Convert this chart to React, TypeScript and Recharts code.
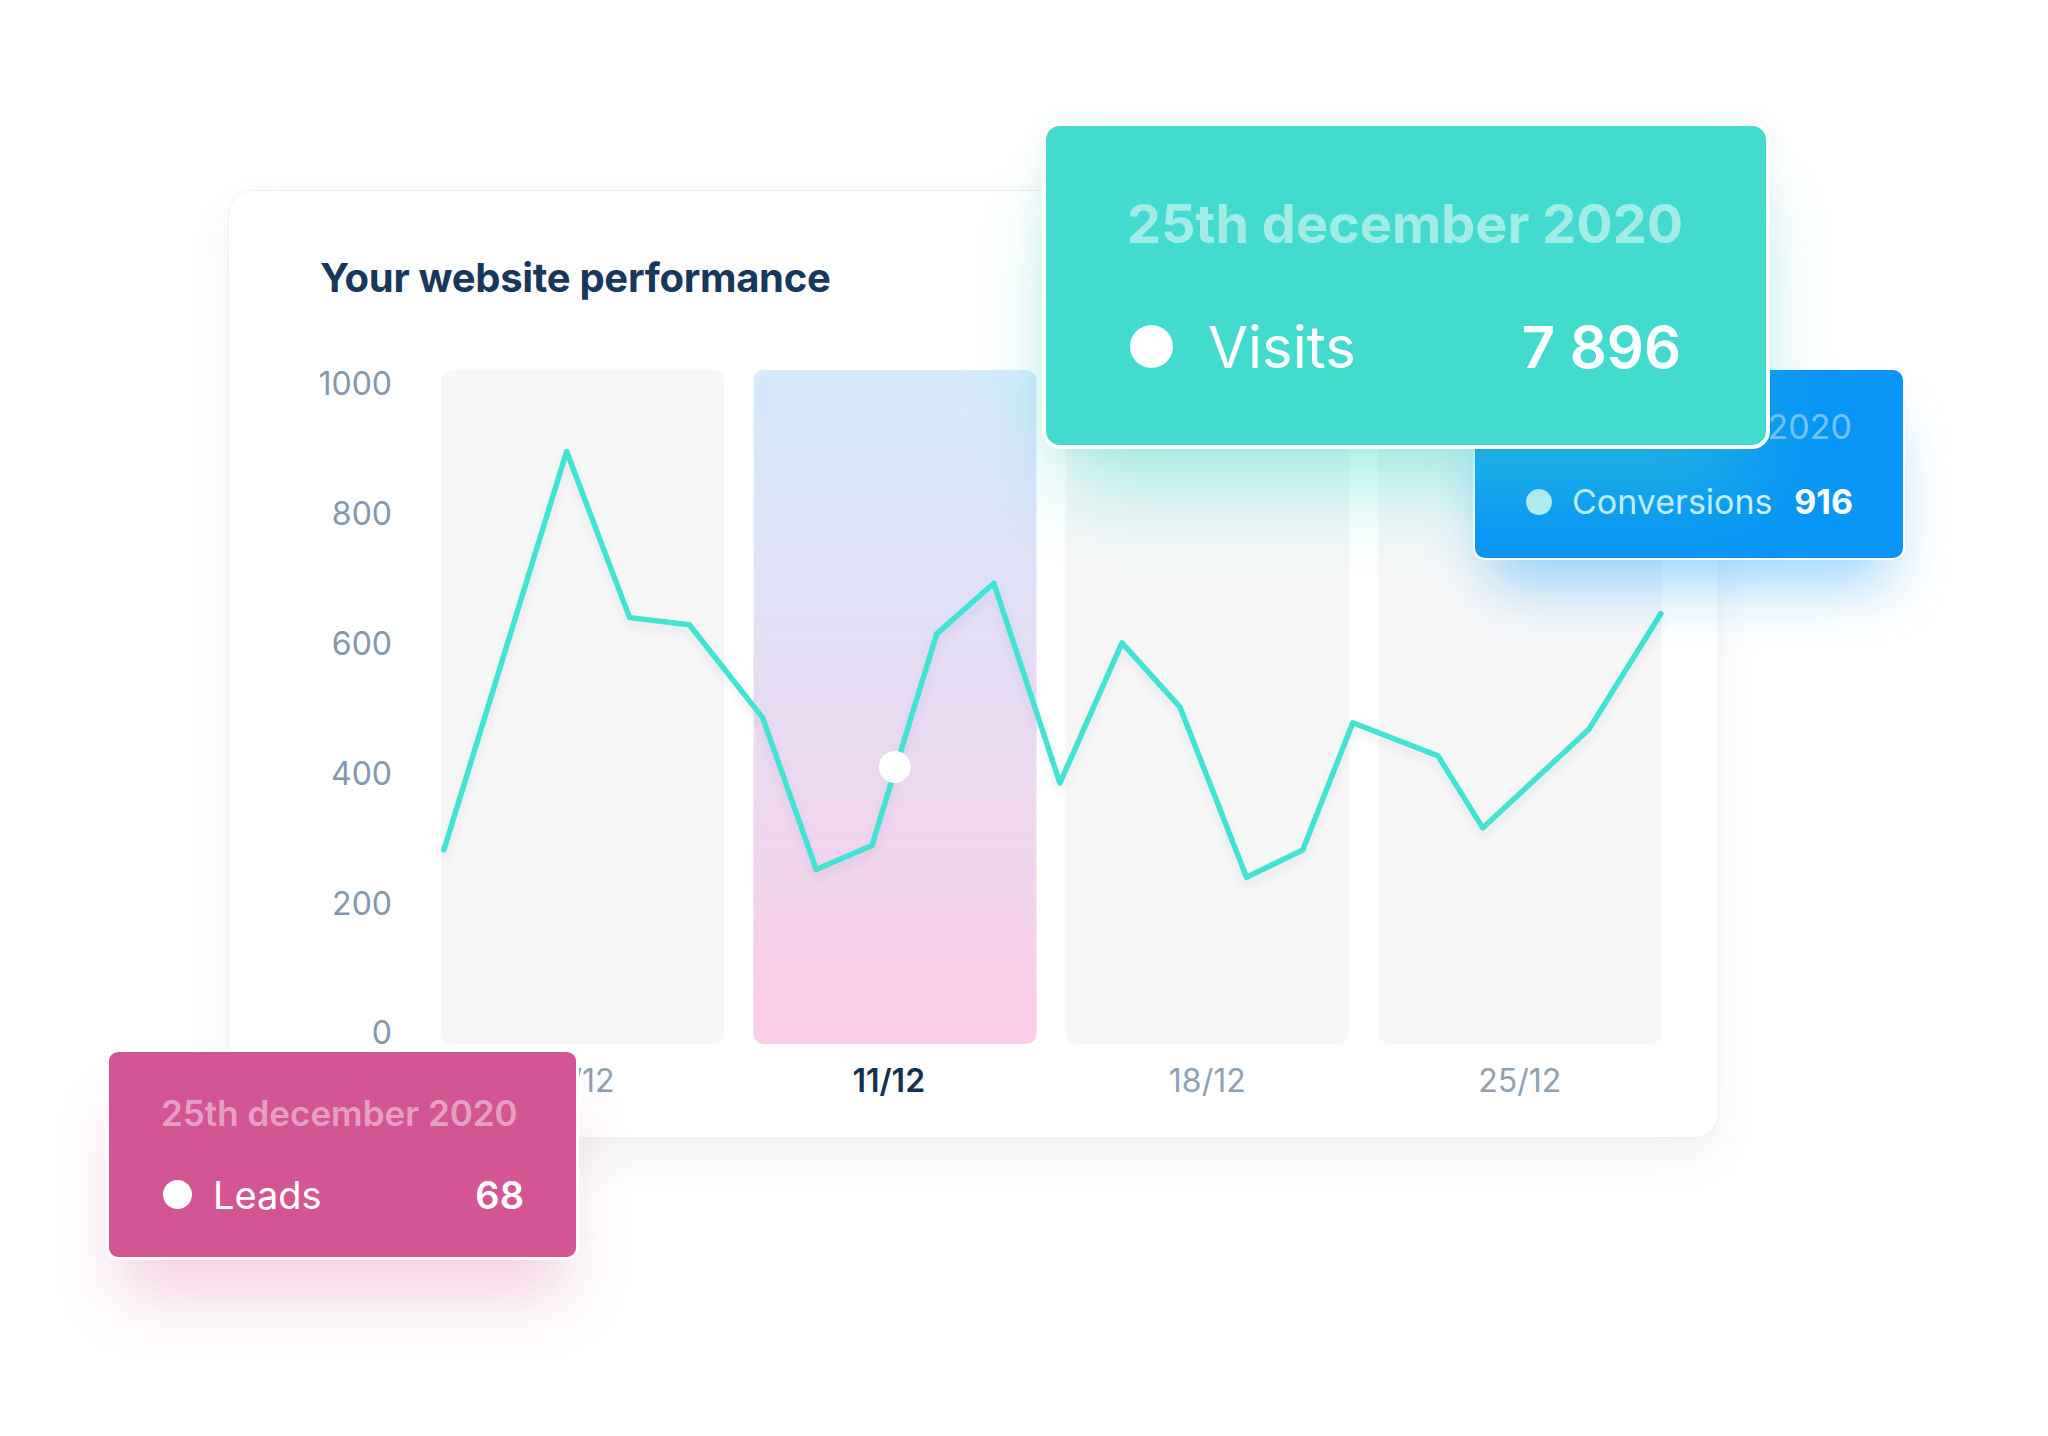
import React from "react"
import { ComposedChart, Bar, Line, XAxis, YAxis, Cell, ReferenceDot } from "recharts"

const weeks = ["4/12", "11/12", "18/12", "25/12"]
const activeWeek = "11/12"
const visitDays = [0.9, 3.65, 5.06, 6.4, 8.04, 9.24, 10.49, 11.94, 13.22, 14.7, 16.09, 17.39, 18.88, 20.14, 21.26, 23.17, 24.17, 26.55, 28.16]
const visitValues = [282, 896, 640, 629, 486, 252, 289, 615, 693, 385, 601, 502, 240, 282, 478, 427, 316, 468, 646]
const yTicks = [0, 200, 400, 600, 800, 1000]
const activeDay = 11
const activeValue = 410

const weekData = weeks.map(week => ({ week, band: 1 }))
const visitData = visitDays.map((day, i) => ({ day, visits: visitValues[i] }))

const font = "Inter, 'Noto Sans', sans-serif"

function WeekTick({ x, y, payload }: any) {
  const active = payload.value === activeWeek
  return (
    <text
      x={x}
      y={y}
      dx={active ? -6 : 0}
      textAnchor="middle"
      dominantBaseline="central"
      fontSize={32}
      fontFamily={font}
      fontWeight={active ? 600 : 400}
      fill={active ? "#12304f" : "#8ea0b3"}
    >
      {payload.value}
    </text>
  )
}

const abs = (s: React.CSSProperties): React.CSSProperties => ({ position: "absolute", lineHeight: 1, whiteSpace: "nowrap", ...s })

export default function App() {
  return (
    <div style={{ position: "absolute", left: 0, top: 0, width: 2048, height: 1436, background: "#fff", overflow: "hidden", fontFamily: font }}>
      {/* main card */}
      <div style={abs({
        left: 229, top: 191, width: 1489, height: 946, background: "#fff", borderRadius: 24,
        boxShadow: "0 0 0 1px #eef1f4, 0 20px 50px rgba(30,55,90,0.07)",
      })} />
      <div style={abs({ left: 320, top: 258, fontSize: 40, fontWeight: 700, color: "#17385c", letterSpacing: -0.3 })}>
        Your website performance
      </div>

      <div style={{ position: "absolute", left: 300, top: 340 }}>
        <ComposedChart width={1376} height={764} data={weekData} margin={{ top: 30, right: 0, bottom: 0, left: 0 }} barCategoryGap={15}>
          <defs>
            <linearGradient id="activeWeekFill" x1="0" y1="0" x2="0" y2="1">
              <stop offset="0%" stopColor="#d4eafd" />
              <stop offset="45%" stopColor="#e5ddf3" />
              <stop offset="100%" stopColor="#fccde8" />
            </linearGradient>
            <filter id="lineShadow" x="-10%" y="-10%" width="120%" height="130%">
              <feDropShadow dx="0" dy="6" stdDeviation="4" floodColor="#1c3550" floodOpacity="0.08" />
            </filter>
          </defs>
          <XAxis
            xAxisId="week"
            dataKey="week"
            axisLine={false}
            tickLine={false}
            tickSize={0}
            tickMargin={36}
            height={60}
            interval={0}
            tick={<WeekTick />}
          />
          <XAxis xAxisId="day" type="number" dataKey="day" domain={[0.5, 28.5]} hide height={0} allowDataOverflow />
          <YAxis
            yAxisId="value"
            width={126}
            domain={[0, 1000]}
            ticks={yTicks}
            axisLine={false}
            tickLine={false}
            tickSize={0}
            tickMargin={34}
            padding={{ top: 14, bottom: 11 }}
            tick={{ fontSize: 32, fill: "#8397ad", fontFamily: font }}
          />
          <YAxis yAxisId="band" hide width={0} domain={[0, 1]} />
          <Bar xAxisId="week" yAxisId="band" dataKey="band" radius={10} isAnimationActive={false}>
            {weekData.map(d => (
              <Cell key={d.week} fill={d.week === activeWeek ? "url(#activeWeekFill)" : "#f7f7f8"} />
            ))}
          </Bar>
          <Line
            xAxisId="day"
            yAxisId="value"
            data={visitData}
            dataKey="visits"
            type="linear"
            stroke="#42e3d3"
            strokeWidth={5.5}
            strokeLinejoin="round"
            strokeLinecap="round"
            filter="url(#lineShadow)"
            dot={false}
            activeDot={false}
            isAnimationActive={false}
          />
          <ReferenceDot xAxisId="day" yAxisId="value" x={activeDay} y={activeValue} r={16} fill="#fff" stroke="none" />
        </ComposedChart>
      </div>

      {/* conversions card */}
      <div style={abs({
        left: 1473, top: 368, width: 432, height: 192, boxSizing: "border-box", background: "#0895f6",
        border: "2px solid #fff", borderRadius: 12,
        boxShadow: "0 40px 60px -16px rgba(8,149,246,0.4)",
      })}>
        <div style={abs({ right: 51, top: 40, fontSize: 34, color: "rgba(255,255,255,0.45)" })}>25th december 2020</div>
        <div style={abs({ left: 51, top: 119, width: 26, height: 26, borderRadius: "50%", background: "#c6eef5" })} />
        <div style={abs({ left: 97, top: 115, fontSize: 34, color: "#d4f0fb" })}>Conversions</div>
        <div style={abs({ right: 50, top: 115, fontSize: 34, fontWeight: 700, color: "#fff" })}>916</div>
      </div>

      {/* visits card */}
      <div style={abs({
        left: 1042, top: 122, width: 728, height: 327, boxSizing: "border-box", background: "#42dbcd",
        border: "4px solid #fff", borderRadius: 18,
        boxShadow: "0 60px 80px -20px rgba(66,219,205,0.45), 0 0 30px rgba(40,60,90,0.06)",
      })}>
        <div style={abs({ left: 81, top: 71, fontSize: 54, fontWeight: 700, color: "rgba(255,255,255,0.5)" })}>25th december 2020</div>
        <div style={abs({ left: 84, top: 199, width: 43, height: 43, borderRadius: "50%", background: "#fff" })} />
        <div style={abs({ left: 162, top: 192, fontSize: 58, color: "#fff" })}>Visits</div>
        <div style={abs({ right: 85, top: 192, fontSize: 58, fontWeight: 600, color: "#fff" })}>7 896</div>
      </div>

      {/* leads card */}
      <div style={abs({
        left: 106, top: 1049, width: 473, height: 211, boxSizing: "border-box", background: "#d45594",
        border: "3px solid #fff", borderRadius: 12,
        boxShadow: "0 50px 60px -14px rgba(212,85,148,0.28)",
      })}>
        <div style={abs({ left: 52, top: 44, fontSize: 35, fontWeight: 600, color: "rgba(255,255,255,0.45)" })}>25th december 2020</div>
        <div style={abs({ left: 54, top: 128, width: 29, height: 29, borderRadius: "50%", background: "#fff" })} />
        <div style={abs({ left: 104, top: 124, fontSize: 38, color: "#fff" })}>Leads</div>
        <div style={abs({ right: 52, top: 124, fontSize: 38, fontWeight: 600, color: "#fff" })}>68</div>
      </div>
    </div>
  )
}
